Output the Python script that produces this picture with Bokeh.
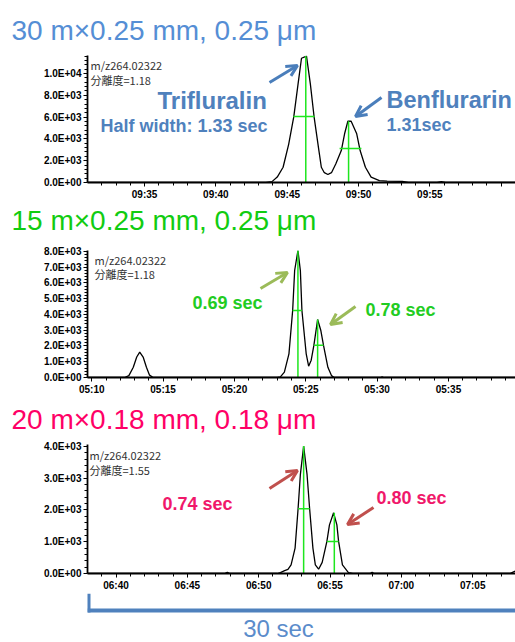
from bokeh.plotting import figure
from bokeh.models import Range1d, FixedTicker, Label, Arrow, OpenHead, Title
from bokeh.core.properties import value
from bokeh.layouts import column
from bokeh.embed import file_html
from bokeh.resources import INLINE

# ---------------- data (seconds, intensity) ----------------
p1_time = [571, 583.5, 583.93, 584.3, 584.71, 585.1, 585.46, 585.76, 586.0, 586.35, 586.62, 586.88,
           587.22, 587.39, 587.6, 587.85, 588.1, 588.4, 588.79, 589.02, 589.25, 589.48, 589.87,
           590.11, 590.48, 590.88, 591.46, 592.0, 593.06, 593.5, 595.5, 595.8, 596.1, 601]
p1_signal = [0, 0, 80, 500, 1400, 3500, 6050, 9050, 11400, 11600, 9050, 6050,
             2930, 1400, 900, 730, 900, 1700, 2930, 4470, 5620, 5620, 4470,
             2930, 1400, 490, 180, 130, 100, 0, 0, 80, 0, 0]

p2_time = [309.7, 312.3, 312.6, 312.91, 313.15, 313.36, 313.6, 313.83, 314.05, 314.3, 323.0, 323.22,
           323.5, 323.82, 324.08, 324.22, 324.45, 324.62, 324.73, 325.03, 325.2, 325.38, 325.57,
           325.83, 326.05, 326.24, 326.55, 326.8, 327.0, 330.2, 330.35, 330.5, 339.7]
p2_signal = [0, 0, 120, 650, 1300, 1610, 1300, 650, 150, 0, 0, 40,
             340, 1500, 4250, 6790, 8060, 6790, 4250, 1500, 720, 1100, 2050,
             3680, 3000, 2050, 650, 120, 0, 0, 40, 0, 0]

p3_time = [398, 407.6, 407.8, 408.0, 411.3, 411.52, 411.82, 412.05, 412.27, 412.55, 412.76, 412.92,
           413.15, 413.39, 413.57, 413.8, 413.97, 414.2, 414.45, 414.78, 414.96, 415.25, 415.48,
           415.6, 415.87, 416.29, 416.6, 417.8, 417.95, 418.1, 427.6, 428]
p3_signal = [0, 0, 40, 0, 0, 30, 90, 130, 270, 800, 2040, 3110,
             4010, 3110, 2040, 800, 270, 135, 350, 1010, 1530, 1910, 1530,
             1010, 270, 30, 0, 0, 40, 0, 0, 80]

# half-width markers: apex time, apex height, half height, left, right
p1_apex_t = [586.3, 589.3]
p1_apex_h = [11600, 5620]
p1_half_h = [6050, 3120]
p1_half_l = [585.43, 588.67]
p1_half_r = [586.92, 590.2]

p2_apex_t = [324.45, 325.83]
p2_apex_h = [8060, 3680]
p2_half_h = [4250, 2050]
p2_half_l = [324.08, 325.57]
p2_half_r = [324.73, 326.24]

p3_apex_t = [413.15, 415.3]
p3_apex_h = [4010, 1910]
p3_half_h = [2040, 1010]
p3_half_l = [412.76, 414.78]
p3_half_r = [413.57, 415.6]

# ticks
p1_xticks = [575, 580, 585, 590, 595, 600]
p1_xlabels = ["09:35", "09:40", "09:45", "09:50", "09:55", ""]
p1_yticks = [0, 2000, 4000, 6000, 8000, 10000]
p1_ylabels = ["0.0E+00", "2.0E+03", "4.0E+03", "6.0E+03", "8.0E+03", "1.0E+04"]

p2_xticks = [310, 315, 320, 325, 330, 335]
p2_xlabels = ["05:10", "05:15", "05:20", "05:25", "05:30", "05:35"]
p2_yticks = [0, 1000, 2000, 3000, 4000, 5000, 6000, 7000, 8000]
p2_ylabels = ["0.0E+00", "1.0E+03", "2.0E+03", "3.0E+03", "4.0E+03", "5.0E+03", "6.0E+03", "7.0E+03", "8.0E+03"]

p3_xticks = [400, 405, 410, 415, 420, 425]
p3_xlabels = ["06:40", "06:45", "06:50", "06:55", "07:00", "07:05"]
p3_yticks = [0, 1000, 2000, 3000, 4000]
p3_ylabels = ["0.0E+00", "1.0E+03", "2.0E+03", "3.0E+03", "4.0E+03"]

titles = ["30 m\u00d70.25 mm, 0.25 \u03bcm", "15 m\u00d70.25 mm, 0.25 \u03bcm", "20 m\u00d70.18 mm, 0.18 \u03bcm"]
title_colors = ["#558ED5", "#11CC11", "#FF0066"]
mz_text = "m/z264.02322"
res_texts = ["\u5206\u96e2\u5ea6=1.18", "\u5206\u96e2\u5ea6=1.18", "\u5206\u96e2\u5ea6=1.55"]
span_seconds = 30
span_label = "30 sec"

# ---------------- styling ----------------
FONT = "Liberation Sans"
CJK = "Noto Sans CJK JP"
GREEN_MARK = "#1EE61E"
FRAME_L = 87
FRAME_W = 428
TITLE_X = 11


def make_title(text, color, standoff):
    return Title(text=text, text_font=FONT, text_font_size="28px",
                 text_font_style="normal", text_color=color,
                 align="left", offset=TITLE_X - FRAME_L, standoff=standoff)


def make_panel(t, s, xr, yr, frame_top, frame_bot, top_border, bot_border,
               xticks, xlabels, yticks, ylabels, yminor_step,
               apex_t, apex_h, half_h, half_l, half_r):
    frame_h = frame_bot - frame_top
    p = figure(frame_width=FRAME_W, frame_height=frame_h,
               x_range=Range1d(*xr), y_range=Range1d(*yr),
               output_backend="svg", toolbar_location=None, title=None,
               min_border_left=FRAME_L, min_border_right=0,
               min_border_top=top_border, min_border_bottom=bot_border)
    p.xgrid.visible = False
    p.ygrid.visible = False
    p.outline_line_color = None
    p.background_fill_color = "white"
    p.border_fill_color = "white"

    p.line(t, s, line_color="black", line_width=1.3)
    p.segment(x0=apex_t, y0=[0] * len(apex_t), x1=apex_t, y1=apex_h,
              line_color=GREEN_MARK, line_width=1.5)
    p.segment(x0=half_l, y0=half_h, x1=half_r, y1=half_h,
              line_color=GREEN_MARK, line_width=1.5)

    xminor = list(range(int(xr[0]) + 1, int(xr[1]) + 1))
    p.xaxis.ticker = FixedTicker(ticks=xticks, minor_ticks=xminor)
    p.xaxis.major_label_overrides = {k: v for k, v in zip(xticks, xlabels)}
    yminor = [i * yminor_step for i in range(int(yr[1] // yminor_step) + 1)]
    p.yaxis.ticker = FixedTicker(ticks=yticks, minor_ticks=yminor)
    p.yaxis.major_label_overrides = {k: v for k, v in zip(yticks, ylabels)}

    for ax in (p.xaxis[0], p.yaxis[0]):
        ax.axis_line_width = 1.8
        ax.axis_line_color = "black"
        ax.major_tick_line_color = "black"
        ax.minor_tick_line_color = "black"
        ax.major_tick_in = 0
        ax.major_tick_out = 4
        ax.minor_tick_in = 0
        ax.minor_tick_out = 3
        ax.major_label_text_font = FONT
        ax.major_label_text_font_style = "bold"
        ax.major_label_text_font_size = "10px"
        ax.major_label_text_color = "black"
        ax.major_label_standoff = 2
    return p


def mapper(xr, yr, frame_top, frame_bot):
    def dx(px):
        return xr[0] + (px - FRAME_L) / FRAME_W * (xr[1] - xr[0])

    def dy(py):
        return yr[0] + (frame_bot - py) / (frame_bot - frame_top) * (yr[1] - yr[0])
    return dx, dy


def add_text(p, dx, dy, px, py, text, size, color, bold=False, align="left", font=FONT):
    p.add_layout(Label(x=dx(px), y=dy(py), text=text, text_font=font,
                       text_font_size=size, text_color=color,
                       text_font_style="bold" if bold else "normal",
                       text_align=align, text_baseline="middle"))


def add_arrow(p, dx, dy, x0, y0, x1, y1, color):
    p.add_layout(Arrow(x_start=dx(x0), y_start=dy(y0), x_end=dx(x1), y_end=dy(y1),
                       line_color=color, line_width=3,
                       end=OpenHead(line_color=color, line_width=3, size=11)))


# ---------------- panel 1 (0 .. 242) ----------------
xr1, yr1 = (571, 601), (0, 11650)
p1 = make_panel(p1_time, p1_signal, xr1, yr1, 55, 182, 55, 60,
                p1_xticks, p1_xlabels, p1_yticks, p1_ylabels, 400,
                p1_apex_t, p1_apex_h, p1_half_h, p1_half_l, p1_half_r)
p1.add_layout(make_title(titles[0], title_colors[0], 19), "above")
p1.add_layout(make_title(titles[1], title_colors[1], 0), "below")
dx1, dy1 = mapper(xr1, yr1, 55, 182)
add_text(p1, dx1, dy1, 90, 64, mz_text, "11px", "#333333", font=CJK)
add_text(p1, dx1, dy1, 90, 79, res_texts[0], "11px", "#333333", font=CJK)
add_text(p1, dx1, dy1, 157, 100, "Trifluralin", "24px", "#4F81BD", bold=True)
add_text(p1, dx1, dy1, 100, 125, "Half width: 1.33 sec", "18px", "#4F81BD", bold=True)
add_text(p1, dx1, dy1, 386, 99, "Benflurarin", "23.5px", "#4F81BD", bold=True)
add_text(p1, dx1, dy1, 386, 124, "1.31sec", "18px", "#4F81BD", bold=True)
add_arrow(p1, dx1, dy1, 269, 82, 297, 65, "#4A7EBB")
add_arrow(p1, dx1, dy1, 381, 97, 355, 116, "#4A7EBB")

# ---------------- panel 2 (242 .. 437) ----------------
xr2, yr2 = (309.7, 339.7), (0, 8060)
p2 = make_panel(p2_time, p2_signal, xr2, yr2, 250, 377, 8, 60,
                p2_xticks, p2_xlabels, p2_yticks, p2_ylabels, 200,
                p2_apex_t, p2_apex_h, p2_half_h, p2_half_l, p2_half_r)
p2.add_layout(make_title(titles[2], title_colors[2], 8), "below")
dx2, dy2 = mapper(xr2, yr2, 250, 377)
add_text(p2, dx2, dy2, 94, 259, mz_text, "11px", "#333333", font=CJK)
add_text(p2, dx2, dy2, 94, 273, res_texts[1], "11px", "#333333", font=CJK)
add_text(p2, dx2, dy2, 192, 302, "0.69 sec", "18px", "#22CC22", bold=True)
add_text(p2, dx2, dy2, 365, 309, "0.78 sec", "18px", "#22CC22", bold=True)
add_arrow(p2, dx2, dy2, 260, 288, 287, 272, "#9BBB59")
add_arrow(p2, dx2, dy2, 355, 306, 330, 324, "#9BBB59")

# ---------------- panel 3 (437 .. 592) ----------------
xr3, yr3 = (398, 428), (0, 4060)
p3 = make_panel(p3_time, p3_signal, xr3, yr3, 443, 572, 6, 20,
                p3_xticks, p3_xlabels, p3_yticks, p3_ylabels, 200,
                p3_apex_t, p3_apex_h, p3_half_h, p3_half_l, p3_half_r)
dx3, dy3 = mapper(xr3, yr3, 443, 572)
add_text(p3, dx3, dy3, 89, 453, mz_text, "11px", "#333333", font=CJK)
add_text(p3, dx3, dy3, 89, 468, res_texts[2], "11px", "#333333", font=CJK)
add_text(p3, dx3, dy3, 162, 502, "0.74 sec", "18px", "#F0186A", bold=True)
add_text(p3, dx3, dy3, 376, 496, "0.80 sec", "18px", "#F0186A", bold=True)
add_arrow(p3, dx3, dy3, 269, 487, 297, 469, "#C0504D")
add_arrow(p3, dx3, dy3, 373, 506, 347, 523, "#C0504D")

# ---------------- 30-second bracket (592 .. 642, same time scale as panel 3) ----------------
BRACKET = "#4F81BD"
px_per_s = FRAME_W / (xr3[1] - xr3[0])
p4 = figure(frame_width=FRAME_W, frame_height=50,
            x_range=Range1d(xr3[0], xr3[0] + span_seconds), y_range=Range1d(50, 0),
            output_backend="svg", toolbar_location=None, title=None,
            min_border_left=FRAME_L, min_border_right=0, min_border_top=0, min_border_bottom=0,
            x_axis_type=None, y_axis_type=None)
p4.xgrid.visible = False
p4.ygrid.visible = False
p4.outline_line_color = None
p4.segment(x0=[xr3[0] + 1 / px_per_s], y0=[0], x1=[xr3[0] + 1 / px_per_s], y1=[19],
           line_color=BRACKET, line_width=4)
p4.segment(x0=[xr3[0]], y0=[17], x1=[xr3[0] + span_seconds], y1=[17],
           line_color=BRACKET, line_width=4)
p4.text(x=[xr3[0] + 191 / px_per_s], y=[35], text=[span_label],
        text_font=value(FONT), text_font_size=value("24px"), text_color="#5B8CCB",
        text_align="center", text_baseline="middle")

layout = column(p1, p2, p3, p4, spacing=0)
open("out.html", "w").write(file_html(layout, INLINE))
